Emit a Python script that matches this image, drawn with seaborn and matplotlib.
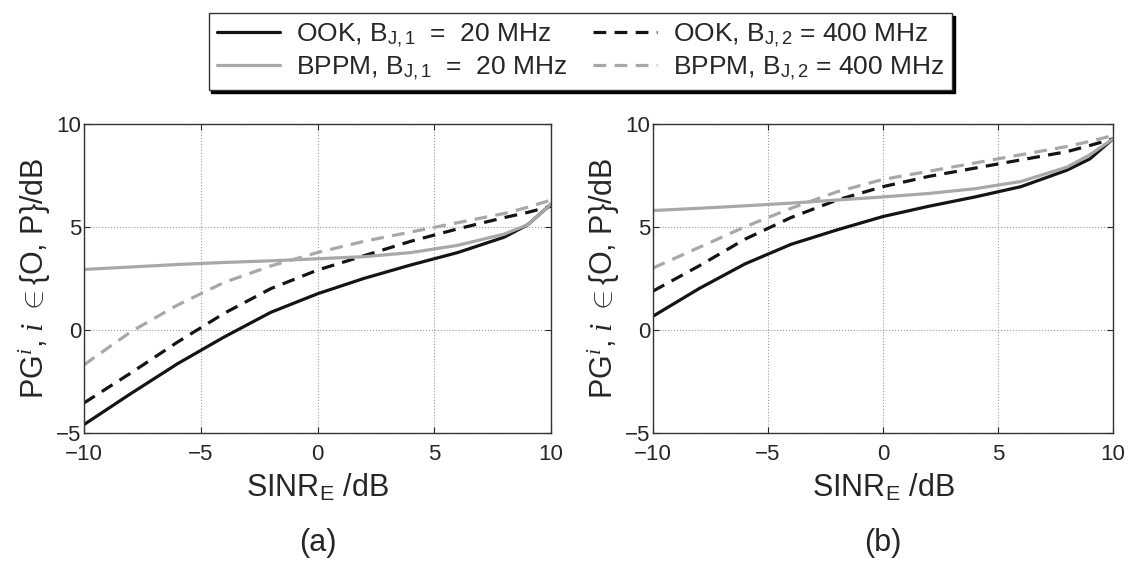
import numpy as np
import pandas as pd
import seaborn as sns
import matplotlib.pyplot as plt

# x axis: SINR_E in dB
sinr = [-10, -8, -6, -4, -2, 0, 2, 4, 6, 8, 9, 10]

# panel (a)
a_ook_20 = [-4.6, -3.1, -1.65, -0.35, 0.85, 1.75, 2.5, 3.15, 3.75, 4.5, 5.1, 6.1]
a_ook_400 = [-3.55, -2.1, -0.6, 0.8, 2.0, 2.9, 3.6, 4.3, 4.9, 5.45, 5.7, 6.0]
a_bppm_20 = [2.93, 3.05, 3.17, 3.27, 3.35, 3.45, 3.55, 3.75, 4.1, 4.65, 5.1, 6.1]
a_bppm_400 = [-1.7, -0.1, 1.2, 2.3, 3.1, 3.75, 4.3, 4.75, 5.2, 5.65, 5.95, 6.3]

# panel (b)
b_ook_20 = [0.66, 2.0, 3.2, 4.15, 4.85, 5.5, 6.0, 6.45, 6.95, 7.75, 8.3, 9.27]
b_ook_400 = [1.88, 3.1, 4.4, 5.45, 6.3, 6.95, 7.45, 7.85, 8.25, 8.65, 8.95, 9.27]
b_bppm_20 = [5.79, 5.9, 6.02, 6.15, 6.3, 6.45, 6.62, 6.85, 7.2, 7.9, 8.5, 9.27]
b_bppm_400 = [3.0, 4.0, 5.0, 5.9, 6.7, 7.3, 7.7, 8.1, 8.5, 8.9, 9.15, 9.43]

labels = [r"OOK, B$_{\rm J,1}$  =  20 MHz", r"OOK, B$_{\rm J,2}$ = 400 MHz",
          r"BPPM, B$_{\rm J,1}$  =  20 MHz", r"BPPM, B$_{\rm J,2}$ = 400 MHz"]
colors = ["#141414", "#141414", "#a8a8a8", "#a8a8a8"]
dashed = [False, True, False, True]

sns.set_style("ticks")
plt.rcParams['font.family'] = ['Liberation Sans Narrow', 'Liberation Sans', 'DejaVu Sans']
plt.rcParams['mathtext.fontset'] = 'custom'
plt.rcParams['mathtext.rm'] = 'Liberation Sans'
plt.rcParams['mathtext.it'] = 'Liberation Serif:italic'

fig = plt.figure(figsize=(11.29, 5.68), dpi=100)
ax_a = fig.add_axes([0.0744, 0.238, 0.4137, 0.544])
ax_b = fig.add_axes([0.5784, 0.238, 0.4074, 0.544])

panels = [(ax_a, [a_ook_20, a_ook_400, a_bppm_20, a_bppm_400], "(a)"),
          (ax_b, [b_ook_20, b_ook_400, b_bppm_20, b_bppm_400], "(b)")]

for ax, series, tag in panels:
    for vals, lab, c, d in zip(series, labels, colors, dashed):
        df = pd.DataFrame({"x": sinr, "y": vals})
        sns.lineplot(data=df, x="x", y="y", ax=ax, color=c, lw=2.3,
                     linestyle="--" if d else "-", label=lab if ax is ax_a else None,
                     legend=False)
        if d:
            ax.lines[-1].set_dashes((4, 2.6))
    ax.set_xlim(-10, 10)
    ax.set_ylim(-5, 10)
    ax.set_xticks([-10, -5, 0, 5, 10])
    ax.set_yticks([-5, 0, 5, 10])
    ax.set_xticklabels(["\u221210", "\u22125", "0", "5", "10"])
    ax.set_yticklabels(["\u22125", "0", "5", "10"])
    ax.grid(True, linestyle=":", color="#999999", lw=0.8)
    ax.tick_params(direction="in", length=4, labelsize=16, top=True, right=True)
    ax.tick_params(axis="x", pad=8)
    ax.tick_params(axis="y", pad=2)
    for s in ax.spines.values():
        s.set_color("#333333")
        s.set_linewidth(1.0)
    ax.set_xlabel(r"SINR$_{\rm E}$ /dB", fontsize=22, labelpad=5)
    ax.set_ylabel(r"PG$^{\it i}$, $\it i$ $\in${O, P}/dB", fontsize=22, labelpad=2)
    ax.text(0.5, -0.356, tag, transform=ax.transAxes, ha="center", va="center", fontsize=22)

h, l = ax_a.get_legend_handles_labels()
order = [0, 2, 1, 3]
leg = fig.legend([h[i] for i in order], [l[i] for i in order], loc="upper center",
                 bbox_to_anchor=(0.514, 1.0), ncol=2, fontsize=19, frameon=True,
                 fancybox=False, edgecolor="#333333", framealpha=1,
                 shadow={"color": "black", "alpha": 1}, handlelength=2.4,
                 columnspacing=1.0, handletextpad=0.6, borderpad=0.3, labelspacing=0.2)
leg.get_frame().set_linewidth(1.0)

fig.savefig("out.png", dpi=100)
